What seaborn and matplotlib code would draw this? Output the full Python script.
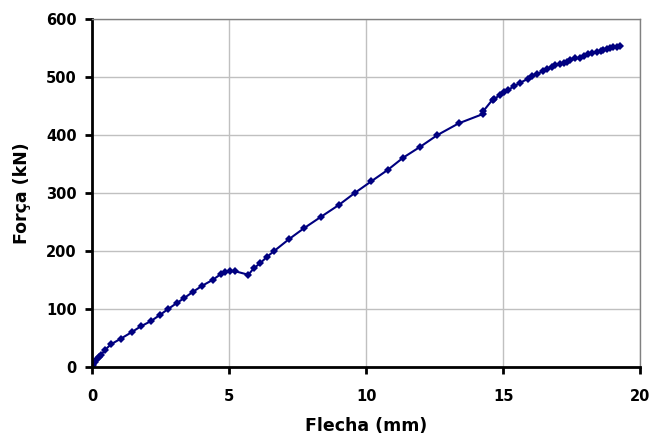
import matplotlib
matplotlib.use('Agg')
import matplotlib.pyplot as plt
import seaborn as sns
import pandas as pd

# deflection (mm) and load (kN)
flecha = [0.0, 0.03, 0.1, 0.16, 0.25, 0.31, 0.46, 0.68, 1.05, 1.44, 1.77, 2.14, 2.48,
          2.77, 3.08, 3.36, 3.69, 4.01, 4.39, 4.69, 4.85, 5.03, 5.22, 5.70, 5.89,
          6.13, 6.38, 6.64, 7.17, 7.72, 8.35, 8.99, 9.58, 10.18, 10.79, 11.35,
          11.98, 12.6, 13.37, 14.25, 14.27, 14.61, 14.67, 14.88, 15.03, 15.18,
          15.4, 15.61, 15.91, 16.04, 16.22, 16.46, 16.6, 16.77, 16.89, 17.07,
          17.2, 17.31, 17.45, 17.62, 17.8, 17.95, 18.1, 18.23, 18.41, 18.55,
          18.65, 18.8, 18.9, 19.0, 19.14, 19.26]
forca = [0, 3, 9, 13, 17, 20, 29, 39, 49, 60, 70, 79, 90,
         100, 110, 119, 130, 140, 150, 160, 164, 165, 165, 159, 170,
         179, 190, 200, 220, 239, 259, 279, 300, 320, 340, 361,
         380, 400, 420, 436, 441, 461, 462, 469, 474, 478,
         484, 490, 497, 501, 505, 510, 514, 518, 520, 522,
         524, 526, 529, 532, 533, 536, 539, 541, 543, 545,
         547, 549, 550, 551, 552, 554]

df = pd.DataFrame({'Flecha': flecha, 'Forca': forca})

sns.set_style('white')
plt.rcParams['font.family'] = ['DejaVu Sans']
plt.rcParams['text.color'] = 'black'
plt.rcParams['axes.labelcolor'] = 'black'
plt.rcParams['xtick.color'] = 'black'
plt.rcParams['ytick.color'] = 'black'

fig = plt.figure(figsize=(6.54, 4.43), dpi=100)
ax = fig.add_axes([0.141, 0.1716, 0.838, 0.7855])

sns.lineplot(data=df, x='Flecha', y='Forca', ax=ax, color='#000080', linewidth=1.5,
             marker='D', markersize=4.5, markeredgewidth=0, sort=False, estimator=None)

ax.set_xlim(0, 20)
ax.set_ylim(0, 600)
ax.set_xticks([0, 5, 10, 15, 20])
ax.set_yticks(range(0, 601, 100))
ax.grid(True, color='#c0c0c0', linewidth=1)
ax.set_axisbelow(True)

for side in ['top', 'right']:
    ax.spines[side].set_color('#808080')
    ax.spines[side].set_linewidth(1)
for side in ['left', 'bottom']:
    ax.spines[side].set_color('black')
    ax.spines[side].set_linewidth(2)

ax.tick_params(axis='both', direction='out', length=5, width=2, color='black',
               labelcolor='black', labelsize=10.5, left=True, bottom=True)
ax.tick_params(axis='y', pad=6)
ax.tick_params(axis='x', pad=11)
for lbl in ax.get_xticklabels() + ax.get_yticklabels():
    lbl.set_fontweight('bold')

ax.set_xlabel('Flecha (mm)', fontsize=12.5, fontweight='bold', labelpad=9)
ax.set_ylabel('Força (kN)', fontsize=12.5, fontweight='bold', labelpad=11)

fig.savefig('out.png', dpi=100)
